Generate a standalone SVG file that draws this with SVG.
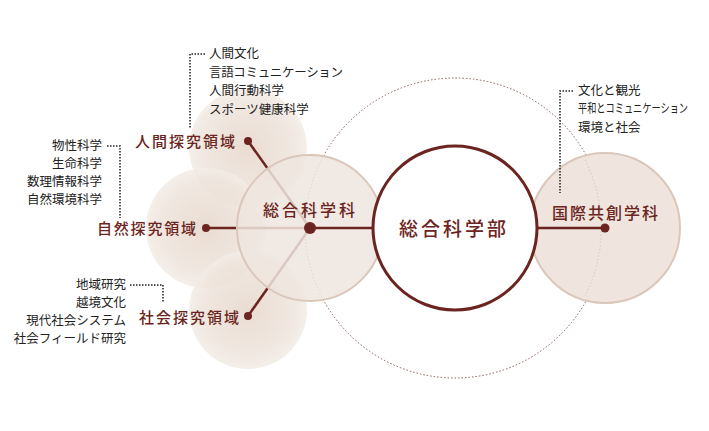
<svg xmlns="http://www.w3.org/2000/svg" width="709" height="431" viewBox="0 0 709 431">
<style>
.petal{fill:url(#pg);}
.lab{font-family:"Noto Sans CJK JP",sans-serif;fill:#6b2420;font-weight:500;}
.lst{font-family:"Noto Sans CJK JP",sans-serif;fill:#222;font-size:12.5px;}
.br{fill:none;stroke:#222;stroke-width:1.5;stroke-dasharray:1.5 1.5;}
.sp{stroke:#6b2420;stroke-width:2.5;}
</style>
<defs>
<radialGradient id="pg"><stop offset="0" stop-color="#e6d6ca"/><stop offset="0.8" stop-color="#eee4dc"/><stop offset="1" stop-color="#f3ece6"/></radialGradient>
</defs>
<rect width="709" height="431" fill="#fff"/>
<g id="petals">
<circle class="petal" cx="248" cy="148" r="59" opacity="0.85"/>
<circle class="petal" cx="206" cy="228" r="60" opacity="0.85"/>
<circle class="petal" cx="248" cy="310" r="59" opacity="0.85"/>
</g>
<circle id="outer" cx="455" cy="228" r="150" fill="none" stroke="#8a5a55" stroke-width="1" stroke-dasharray="1.5 2"/>
<g id="connectors">
<line class="sp" x1="310" y1="228" x2="248" y2="141"/>
<line class="sp" x1="310" y1="228" x2="206" y2="228"/>
<line class="sp" x1="310" y1="228" x2="248" y2="316"/>
</g>
<g id="sogokagakuka">
<circle cx="310" cy="228" r="73" fill="#efe5de" fill-opacity="0.85" stroke="#dac7ba" stroke-width="2"/>
<text class="lab" x="263" y="216" font-size="16" textLength="92" lengthAdjust="spacing">総合科学科</text>
</g>
<g id="kokusai">
<circle cx="605" cy="228" r="75" fill="#efe5de" stroke="#dac7ba" stroke-width="2"/>
<path d="M585,160 A150,150 0 0 1 585,296" fill="none" stroke="#d8c6bb" stroke-width="1" stroke-dasharray="1.5 2"/>
<text class="lab" x="552" y="219" font-size="16" textLength="106" lengthAdjust="spacing">国際共創学科</text>
</g>
<g id="connectors2">
<line class="sp" x1="310" y1="228" x2="605" y2="228"/>
<circle cx="310" cy="228" r="6" fill="#6b2420"/>
<circle cx="605" cy="228" r="4.5" fill="#6b2420"/>
<circle cx="248" cy="141" r="4" fill="#6b2420"/>
<circle cx="206" cy="228" r="4" fill="#6b2420"/>
<circle cx="248" cy="316" r="4" fill="#6b2420"/>
</g>
<g id="gakubu">
<circle cx="455" cy="228" r="82" fill="#fff" stroke="#6b2420" stroke-width="3"/>
<text class="lab" x="399" y="236" font-size="19" textLength="107" lengthAdjust="spacing">総合科学部</text>
</g>
<g id="ningen">
<text class="lab" x="135" y="147" font-size="15" textLength="100" lengthAdjust="spacing">人間探究領域</text>
<path class="br" d="M205,54 H190 V128"/>
<text class="lst" x="209" y="58">人間文化</text>
<text class="lst" x="209" y="77" textLength="134" lengthAdjust="spacing">言語コミュニケーション</text>
<text class="lst" x="209" y="95">人間行動科学</text>
<text class="lst" x="209" y="114">スポーツ健康科学</text>
</g>
<g id="shizen">
<text class="lab" x="97" y="234" font-size="15" textLength="99" lengthAdjust="spacing">自然探究領域</text>
<path class="br" d="M107,146 H120 V218"/>
<text class="lst" x="102" y="150" text-anchor="end">物性科学</text>
<text class="lst" x="102" y="168" text-anchor="end">生命科学</text>
<text class="lst" x="102" y="186" text-anchor="end">数理情報科学</text>
<text class="lst" x="102" y="204" text-anchor="end">自然環境科学</text>
</g>
<g id="shakai">
<text class="lab" x="139" y="323" font-size="15" textLength="100" lengthAdjust="spacing">社会探究領域</text>
<path class="br" d="M130,285 H163 V302"/>
<text class="lst" x="126" y="289" text-anchor="end">地域研究</text>
<text class="lst" x="126" y="307" text-anchor="end">越境文化</text>
<text class="lst" x="126" y="325" text-anchor="end">現代社会システム</text>
<text class="lst" x="126" y="343" text-anchor="end">社会フィールド研究</text>
</g>
<g id="kokusai-list">
<path class="br" d="M573,91 H560 V193"/>
<text class="lst" x="578" y="95">文化と観光</text>
<text class="lst" x="578" y="113" font-size="10" textLength="110" lengthAdjust="spacingAndGlyphs">平和とコミュニケーション</text>
<text class="lst" x="578" y="132">環境と社会</text>
</g>
</svg>
